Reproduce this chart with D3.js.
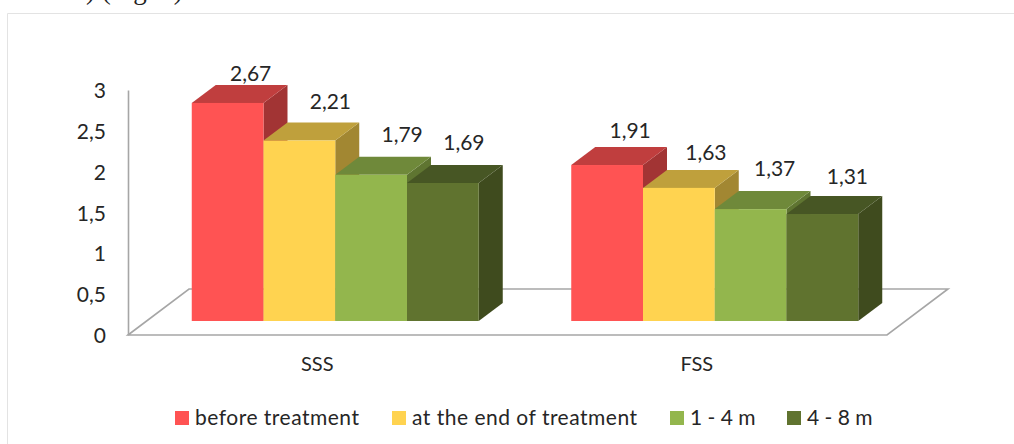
<!DOCTYPE html>
<html>
<head>
<meta charset="utf-8">
<script src="https://cdn.jsdelivr.net/npm/d3@7"></script>
<style>
  html, body { margin: 0; padding: 0; background: #fff; overflow: hidden; }
  svg { display: block; }
  text { font-family: Lato, "Open Sans", sans-serif; fill: #262626; }
</style>
</head>
<body>
<svg width="1014" height="444"></svg>
<script>
const categories = ["SSS", "FSS"];
const seriesNames = ["before treatment", "at the end of treatment", "1 - 4 m", "4 - 8 m"];
const sssValues = [2.67, 2.21, 1.79, 1.69];
const fssValues = [1.91, 1.63, 1.37, 1.31];
const yTicks = [0, 0.5, 1, 1.5, 2, 2.5, 3];

const frontColors = ["#ff5353", "#ffd350", "#93b64d", "#60732f"];
const topColors = ["#c03e3e", "#bfa03c", "#6f893a", "#475624"];
const sideColors = ["#a23434", "#a28732", "#5f7531", "#3f4b1e"];

// hand placed label nudges, the original labels do not sit evenly over the bars
const labelNudgeX = [[0, 8, 8, -2], [0, 4, 1, 2]];
const labelNudgeY = [[1, -9, -10, -10], [-4, -5, -10, -7]];

const comma = d3.format(".2f");
const commaFmt = v => comma(v).replace(".", ",");
const tickFmt = v => String(v).replace(".", ",");

const svg = d3.select("svg");

// chart frame, cut by the page edge on the right and bottom
svg.append("path")
    .attr("d", "M7.5,444V13.5H1014")
    .attr("fill", "none")
    .attr("stroke", "#e3e3e3");

// caption of the page above, only its lower edge is visible
svg.append("text")
    .attr("x", 86)
    .attr("y", -1)
    .style("font-family", "'Liberation Serif', serif")
    .style("font-size", "27px")
    .style("fill", "#222")
    .text(") (Fig. 2)");

const x0 = d3.scaleBand().domain(categories).range([128, 887]);
const y = d3.scaleLinear().domain([0, 3]).range([335, 90]);

// depth of the floor and of a bar, in pixels
const floorDx = 61, floorDy = -46;
const barShiftX = 17.5, barShiftY = -14;
const depthX = 24, depthY = -18;

const x1 = d3.scaleBand()
    .domain(seriesNames)
    .range([x0.bandwidth() * 0.5 - 143.5, x0.bandwidth() * 0.5 + 143.5]);

// floor
const x00 = x0.range()[0], x01 = x0.range()[1], y00 = y(0);
svg.append("path")
    .attr("d", `M${x00},${y00}L${x00 + floorDx},${y00 + floorDy}H${x01 + floorDx}L${x01},${y00}Z`)
    .attr("fill", "#fff")
    .attr("stroke", "#a6a6a6")
    .attr("stroke-width", 1.6);

// value axis, labels only plus the wall line
const yAxis = svg.append("g")
    .attr("transform", `translate(${x00},0)`)
    .call(d3.axisLeft(y).tickValues(yTicks).tickFormat(tickFmt).tickSize(0).tickPadding(22));
yAxis.select(".domain").attr("stroke", "#a6a6a6").attr("stroke-width", 1.6);
yAxis.selectAll("text").style("font-size", "21px").attr("fill", "#262626").attr("dy", "0.36em");

const rows = [sssValues, fssValues];

categories.forEach((cat, c) => {
  const g = svg.append("g")
      .attr("transform", `translate(${x0(cat) + barShiftX},${barShiftY})`);

  seriesNames.forEach((name, i) => {
    const v = rows[c][i];
    const left = x1(name), right = left + x1.bandwidth();
    const top = y(v), base = y(0);

    // side first, next bar's front covers it
    g.append("path")
        .attr("d", `M${right},${top}l${depthX},${depthY}V${base + depthY}L${right},${base}Z`)
        .attr("fill", sideColors[i]);
    g.append("path")
        .attr("d", `M${left},${top}l${depthX},${depthY}H${right + depthX}L${right},${top}Z`)
        .attr("fill", topColors[i]);
  });

  seriesNames.forEach((name, i) => {
    const v = rows[c][i];
    g.append("rect")
        .attr("x", x1(name))
        .attr("y", y(v))
        .attr("width", x1.bandwidth())
        .attr("height", y(0) - y(v))
        .attr("fill", frontColors[i]);

    g.append("text")
        .attr("x", x1(name) + x1.bandwidth() / 2 + 23 + labelNudgeX[c][i])
        .attr("y", y(v) - 23 + labelNudgeY[c][i])
        .attr("text-anchor", "middle")
        .style("font-size", "21px")
        .text(commaFmt(v));
  });
});

// category labels
svg.selectAll(".cat")
    .data(categories)
    .enter()
    .append("text")
    .attr("class", "cat")
    .attr("x", d => x0(d) + x0.bandwidth() / 2 - 0.5)
    .attr("y", 371)
    .attr("text-anchor", "middle")
    .style("font-size", "20px")
    .text(d => d);

// --- Legend ---
const legendX = [175, 392, 670, 787];
const legendSpacing = [0.5, 0.5, 0, 0];
seriesNames.forEach((name, i) => {
  const row = svg.append("g")
      .attr("transform", `translate(${legendX[i]},411)`);
  row.append("rect")
      .attr("width", 14)
      .attr("height", 14)
      .attr("fill", frontColors[i]);
  row.append("text")
      .attr("x", 20)
      .attr("y", 14)
      .style("font-size", "21px")
      .style("letter-spacing", `${legendSpacing[i]}px`)
      .text(name);
});
</script>
</body>
</html>
